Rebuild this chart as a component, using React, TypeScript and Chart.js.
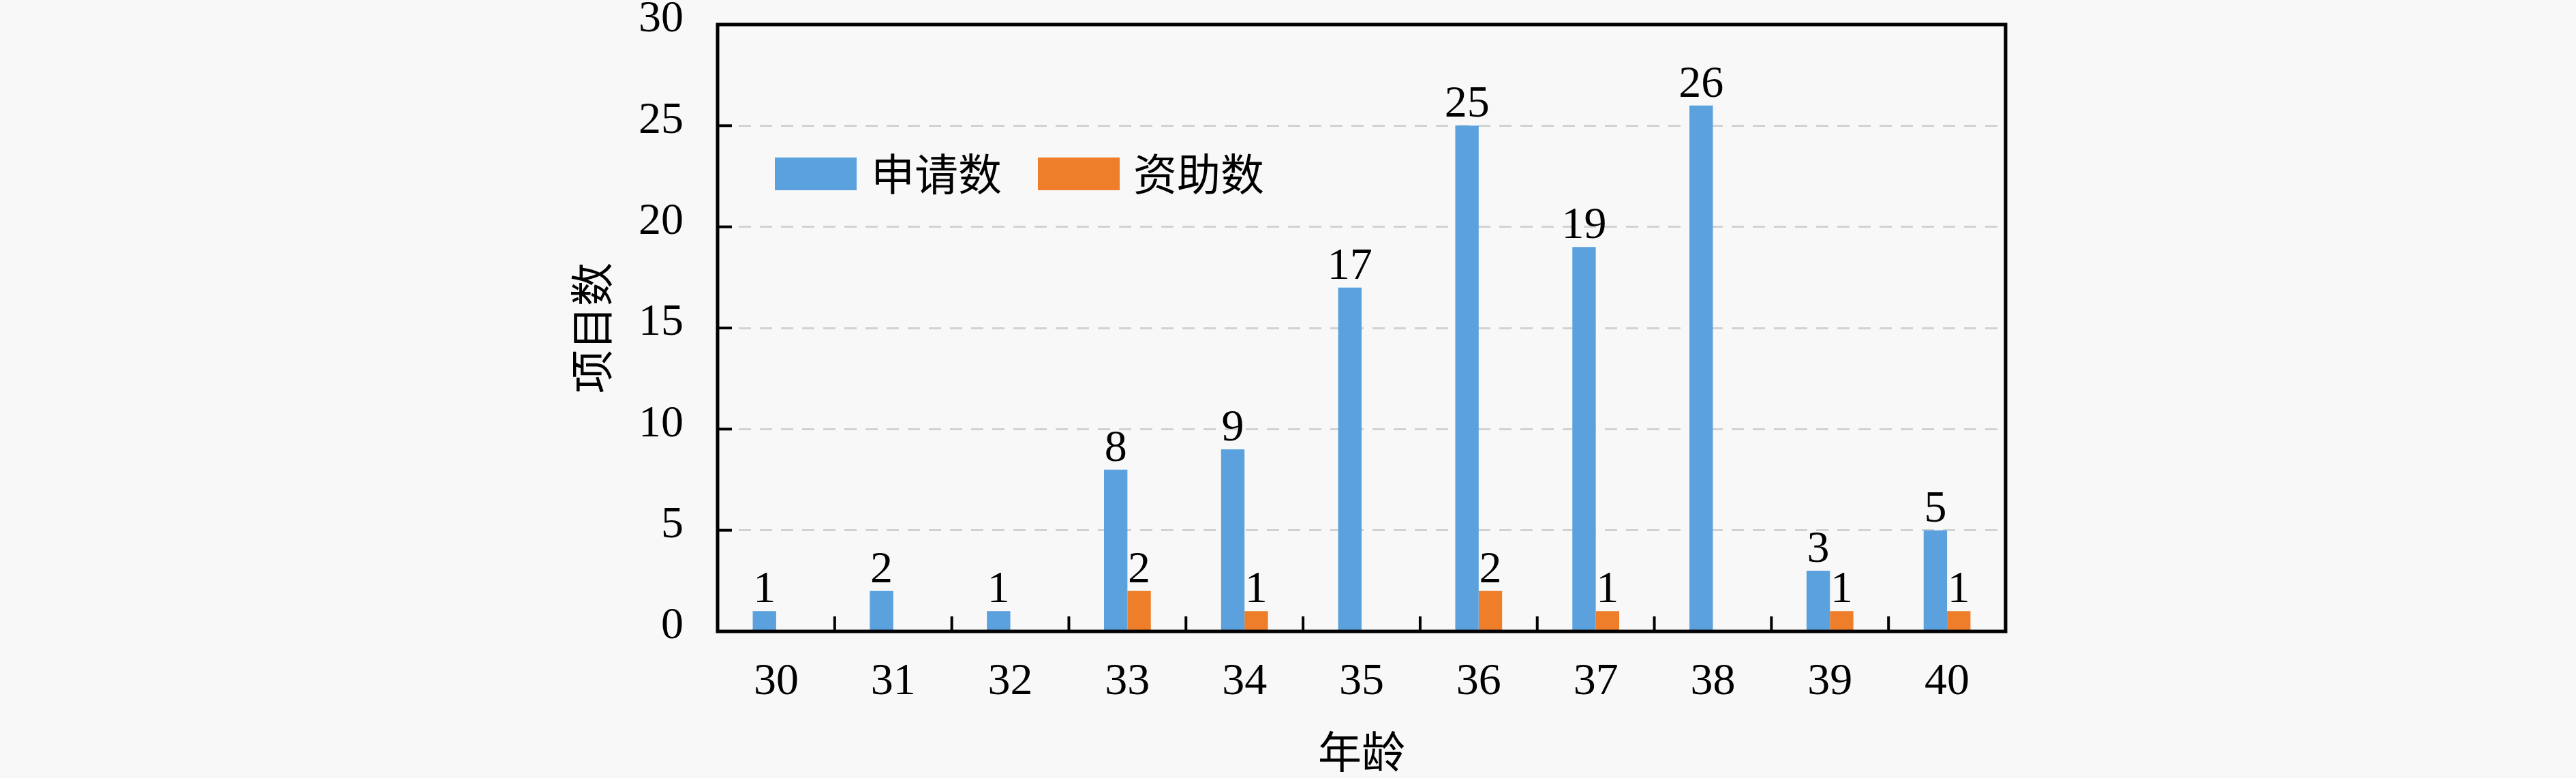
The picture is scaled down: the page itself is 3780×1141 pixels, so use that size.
import React, { useEffect, useRef } from "react";
import { Chart, registerables } from "chart.js";

Chart.register(...registerables);

// ---- data ----
const categories = ["30", "31", "32", "33", "34", "35", "36", "37", "38", "39", "40"];
const applications = [1, 2, 1, 8, 9, 17, 25, 19, 26, 3, 5];
const funded = [0, 0, 0, 2, 1, 0, 2, 1, 0, 1, 1];
const seriesNames = ["申请数", "资助数"];
const yMin = 0;
const yMax = 30;
const yStep = 5;
const xTitle = "年龄";
const yTitle = "项目数";

// ---- styles ----
const SERIF = '"Liberation Serif", "DejaVu Serif", serif';
const CJK = '"Noto Sans CJK SC", "Noto Sans CJK JP", sans-serif';
const BLUE = "#5AA1DE";
const ORANGE = "#EE7E2A";
const BG = "#f8f8f8";
const NUM_SIZE = 66;

const decorPlugin = {
  id: "decor",
  afterDatasetsDraw(chart: any) {
    const { ctx, chartArea: a, scales } = chart;
    const xs = scales.x;
    const ys = scales.y;
    ctx.save();
    ctx.strokeStyle = "#000";
    ctx.lineWidth = 4;
    ctx.setLineDash([]);
    // inward y ticks
    ys.ticks.forEach((t: any) => {
      if (t.value > yMin && t.value < yMax) {
        const py = ys.getPixelForValue(t.value);
        ctx.beginPath();
        ctx.moveTo(a.left, py);
        ctx.lineTo(a.left + 21, py);
        ctx.stroke();
      }
    });
    // inward x separators between categories
    for (let i = 0; i < categories.length - 1; i++) {
      const px = (xs.getPixelForValue(i) + xs.getPixelForValue(i + 1)) / 2;
      ctx.beginPath();
      ctx.moveTo(px, a.bottom);
      ctx.lineTo(px, a.bottom - 22);
      ctx.stroke();
    }
    // frame
    ctx.lineWidth = 5;
    ctx.strokeRect(a.left, a.top, a.right - a.left, a.bottom - a.top);

    // data labels
    ctx.font = `${NUM_SIZE}px ${SERIF}`;
    ctx.fillStyle = "#000";
    ctx.textAlign = "center";
    ctx.textBaseline = "alphabetic";
    chart.data.datasets.forEach((ds: any, di: number) => {
      const meta = chart.getDatasetMeta(di);
      meta.data.forEach((el: any, i: number) => {
        const v = ds.data[i];
        if (!v) return;
        ctx.fillText(String(v), el.x, el.y - 13);
      });
    });

    // legend inside plot area
    const items = chart.data.datasets.map((ds: any) => ({ label: ds.label, color: ds.backgroundColor }));
    const boxOffsets = [84, 470];
    const textOffsets = [225, 610];
    const cy = a.top + 219;
    ctx.font = `64px ${CJK}`;
    ctx.textAlign = "left";
    ctx.textBaseline = "middle";
    items.forEach((it: any, k: number) => {
      ctx.fillStyle = it.color;
      ctx.fillRect(a.left + boxOffsets[k], cy - 24, 120, 48);
      ctx.fillStyle = "#000";
      ctx.fillText(it.label, a.left + textOffsets[k], cy);
    });
    ctx.restore();
  },
};

export default function App() {
  const ref = useRef<HTMLCanvasElement | null>(null);

  useEffect(() => {
    document.body.style.margin = "0";
    document.body.style.background = BG;
    if (!ref.current) return;
    const chart = new Chart(ref.current, {
      type: "bar",
      data: {
        labels: categories,
        datasets: [
          {
            label: seriesNames[0],
            data: applications,
            backgroundColor: BLUE,
            borderWidth: 0,
            categoryPercentage: 0.4,
            barPercentage: 1.0,
          },
          {
            label: seriesNames[1],
            data: funded,
            backgroundColor: ORANGE,
            borderWidth: 0,
            categoryPercentage: 0.4,
            barPercentage: 1.0,
          },
        ],
      },
      options: {
        animation: false,
        responsive: false,
        devicePixelRatio: 1,
        layout: { padding: { left: 0, top: 36, right: 837, bottom: 0 } },
        plugins: {
          legend: { display: false },
          tooltip: { enabled: false },
        },
        scales: {
          x: {
            type: "category",
            grid: { display: false, drawTicks: false },
            border: { display: false },
            ticks: {
              font: { family: SERIF, size: NUM_SIZE },
              color: "#000",
              padding: 35,
              maxRotation: 0,
              autoSkip: false,
            },
            title: {
              display: true,
              text: xTitle,
              font: { family: CJK, size: 64 },
              color: "#000",
              padding: { top: 0, bottom: 1 },
            },
            afterFit: (s: any) => {
              s.height = 215;
            },
          },
          y: {
            min: yMin,
            max: yMax,
            ticks: {
              stepSize: yStep,
              font: { family: SERIF, size: NUM_SIZE, lineHeight: 1 },
              color: "#000",
              padding: 0,
              labelOffset: -7,
            },
            grid: {
              color: "#d2d2d2",
              lineWidth: 3,
              drawTicks: true,
              tickLength: 50,
              tickColor: "rgba(0,0,0,0)",
            },
            border: { display: false, dash: [18, 13] },
            title: {
              display: true,
              text: yTitle,
              font: { family: CJK, size: 64 },
              color: "#000",
              padding: { top: 829, bottom: 0 },
            },
            afterFit: (s: any) => {
              s.width = 1053;
            },
          },
        },
      },
      plugins: [decorPlugin],
    } as any);
    return () => chart.destroy();
  }, []);

  return (
    <div style={{ width: 3780, height: 1141, background: BG }}>
      <canvas ref={ref} width={3780} height={1141} style={{ display: "block" }} />
    </div>
  );
}
